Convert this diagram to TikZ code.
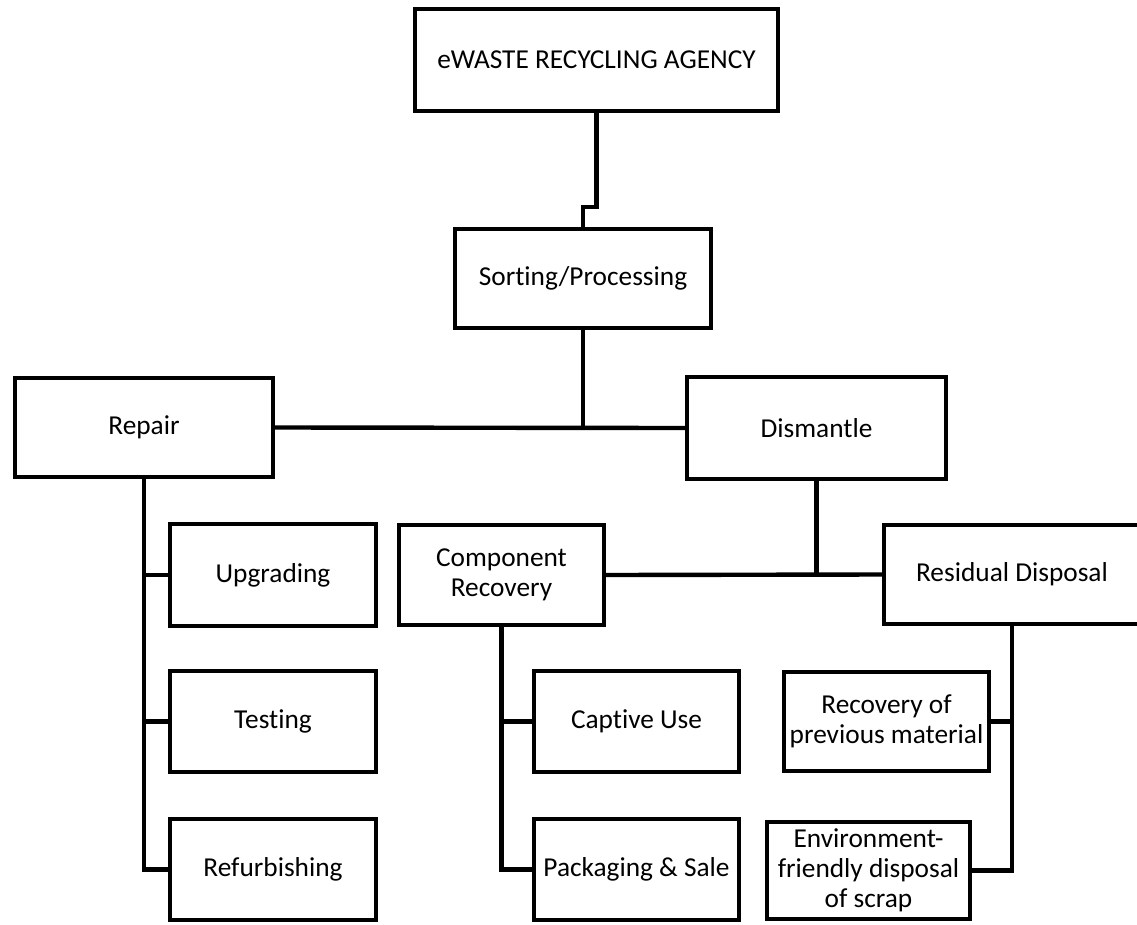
\documentclass[tikz,border=0pt]{standalone}
\usepackage{fontspec}
\setmainfont{Carlito}[Ligatures=NoCommon]
\begin{document}
\begin{tikzpicture}[x=0.75pt,y=-0.75pt,
  line width=3.3pt,
  bx/.style={draw=black, line width=3.3pt, rectangle, align=center, inner sep=2pt,
             font=\fontsize{20.5}{22.5}\selectfont},
  conn/.style={draw=black, line width=3.3pt}]
\useasboundingbox (0,0) rectangle (1137,924);
\clip (0,0) rectangle (1137,924);
\fill[white] (0,0) rectangle (1137,924);

\node[bx, minimum width=272.25pt, minimum height=76.5pt] (agency) at (596.5,60) {eWASTE RECYCLING AGENCY};
\node[bx, minimum width=192pt, minimum height=74.25pt] (sorting) at (583,278.5) {Sorting/Processing};
\node[bx, minimum width=193.5pt, minimum height=74.25pt] (repair) at (144,427.5) {Repair};
\node[bx, minimum width=194.25pt, minimum height=76.5pt] (dismantle) at (816.5,428) {Dismantle};
\node[bx, minimum width=154.5pt, minimum height=76.5pt] (upgrading) at (273,575) {Upgrading};
\node[bx, minimum width=154.5pt, minimum height=75.75pt] (testing) at (273,721.5) {Testing};
\node[bx, minimum width=154.5pt, minimum height=75.75pt] (refurb) at (273,869.5) {Refurbishing};
\node[bx, minimum width=153.75pt, minimum height=75pt] (comprec) at (501.5,575) {Component\\Recovery};
\node[bx, minimum width=153.75pt, minimum height=75.75pt] (captive) at (636.5,721.5) {Captive Use};
\node[bx, minimum width=153.75pt, minimum height=75.75pt] (packaging) at (636.5,869.5) {Packaging \& Sale};
\node[bx, minimum width=192pt, minimum height=74.25pt] (residual) at (1012,574.5) {Residual Disposal};
\node[bx, minimum width=153.75pt, minimum height=74.25pt] (recovery) at (886.5,721.5) {Recovery of\\previous material};
\node[bx, minimum width=152.25pt, minimum height=72.75pt] (env) at (868.5,870.5) {Environment-\\friendly disposal\\of scrap};

\coordinate (j1) at (596.5,207);
\draw[conn] (agency.south) -- (j1) -| (sorting.north);
\draw[conn] (repair.east) -- (dismantle.west);
\draw[conn] (sorting.south) -- (sorting.south |- repair.east);
\draw[conn] (repair.south) |- (refurb.west);
\draw[conn] (repair.south |- upgrading.west) -- (upgrading.west);
\draw[conn] (repair.south |- testing.west) -- (testing.west);
\draw[conn] (comprec.east) -- (residual.west);
\draw[conn] (dismantle.south) -- (dismantle.south |- comprec.east);
\draw[conn] (comprec.south) |- (packaging.west);
\draw[conn] (comprec.south |- captive.west) -- (captive.west);
\draw[conn] (residual.south) |- (env.east);
\draw[conn] (residual.south |- recovery.east) -- (recovery.east);
\end{tikzpicture}
\end{document}
